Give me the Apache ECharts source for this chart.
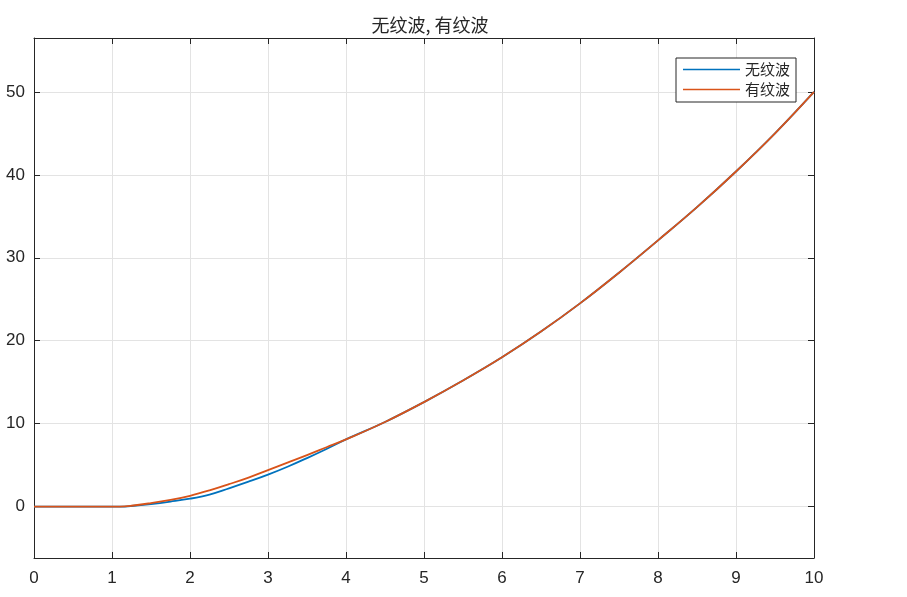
<!DOCTYPE html>
<html>
<head>
<meta charset="utf-8">
<script src="https://cdn.jsdelivr.net/npm/echarts@6/dist/echarts.min.js"></script>
<style>
html, body { margin: 0; padding: 0; background: #fff; }
#main { width: 907px; height: 597px; }
</style>
</head>
<body>
<div id="main"></div>
<script>
// 数据
var xs = [0, 0.5, 1, 1.1, 1.25, 1.5, 1.75, 2, 2.25, 2.5, 2.75, 3, 3.25, 3.5, 3.75, 4,
          4.5, 5, 5.5, 6, 6.5, 7, 7.5, 8, 8.5, 9, 9.5, 10];
var noRipple = [0, 0, 0, 0, 0.07, 0.3, 0.6, 0.95, 1.45, 2.2, 3.0, 3.85, 4.8, 5.85, 6.95, 8.1,
                10.2, 12.6, 15.2, 18.0, 21.1, 24.5, 28.2, 32.1, 36.1, 40.4, 45.0, 50.0];
var withRipple = [0, 0, 0, 0, 0.1, 0.42, 0.8, 1.3, 1.95, 2.7, 3.5, 4.4, 5.3, 6.2, 7.15, 8.1,
                  10.2, 12.6, 15.2, 18.0, 21.1, 24.5, 28.2, 32.1, 36.1, 40.4, 45.0, 50.0];
var xTickLabels = [0, 1, 2, 3, 4, 5, 6, 7, 8, 9, 10];
var yTickLabels = [0, 10, 20, 30, 40, 50];
var seriesNames = ['无纹波', '有纹波'];

function pairs(ys) {
    var out = [];
    for (var i = 0; i < xs.length; i++) out.push([xs[i], ys[i]]);
    return out;
}

var axisColor = '#262626';
var labelFont = { color: '#262626', fontSize: 17, fontFamily: 'Liberation Sans, Arial, sans-serif' };

// 四周的坐标框 + 朝内的刻度
function frameAxis(pos, extra) {
    return Object.assign({
        type: 'value',
        position: pos,
        axisLine: { show: true, onZero: false, lineStyle: { color: axisColor, width: 1 } },
        axisTick: { inside: true, length: 6, lineStyle: { color: axisColor } },
        axisLabel: { show: false },
        splitLine: { show: false }
    }, extra);
}

var myChart = echarts.init(document.getElementById('main'));
var option = {
    animation: false,
    backgroundColor: '#fff',
    title: {
        text: '无纹波, 有纹波',
        left: 425,
        textAlign: 'center',
        top: 11,
        textStyle: { color: '#262626', fontSize: 18, fontWeight: 'normal', fontFamily: 'Noto Sans CJK SC, sans-serif' }
    },
    legend: {
        data: seriesNames,
        orient: 'vertical',
        left: 676,
        top: 58,
        padding: [4, 6, 5, 7],
        itemGap: 5,
        icon: 'rect',
        itemWidth: 57,
        itemHeight: 1.6,
        borderColor: axisColor,
        borderWidth: 1,
        borderRadius: 0,
        backgroundColor: '#fff',
        textStyle: { color: '#262626', fontSize: 15, fontFamily: 'Noto Sans CJK SC, sans-serif' }
    },
    grid: { left: 34, right: 93, top: 38, bottom: 39 },
    xAxis: [
        frameAxis('bottom', {
            min: 0, max: 10, interval: 1,
            axisLabel: Object.assign({
                margin: 12,
                formatter: function (v) { return xTickLabels.indexOf(v) >= 0 ? String(v) : ''; }
            }, labelFont),
            splitLine: { show: true, lineStyle: { color: '#e3e3e3', width: 1 } }
        }),
        frameAxis('top', { min: 0, max: 10, interval: 1 })
    ],
    yAxis: [
        frameAxis('left', {
            min: -6.2, max: 56.5,
            axisLabel: Object.assign({
                margin: 9,
                showMinLabel: false,
                showMaxLabel: false,
                formatter: function (v) { return yTickLabels.indexOf(v) >= 0 ? String(v) : ''; }
            }, labelFont),
            splitLine: { show: true, lineStyle: { color: '#e3e3e3', width: 1 } }
        }),
        frameAxis('right', { min: -6.2, max: 56.5 })
    ],
    series: [{
        name: seriesNames[0],
        type: 'line',
        xAxisIndex: 0,
        yAxisIndex: 0,
        symbol: 'none',
        smooth: 0.4,
        data: pairs(noRipple),
        itemStyle: { color: '#0072BD' },
        lineStyle: { color: '#0072BD', width: 1.8 }
    }, {
        name: seriesNames[1],
        type: 'line',
        xAxisIndex: 0,
        yAxisIndex: 0,
        symbol: 'none',
        smooth: 0.4,
        data: pairs(withRipple),
        itemStyle: { color: '#D95319' },
        lineStyle: { color: '#D95319', width: 1.8 }
    }]
};
myChart.setOption(option);
</script>
</body>
</html>
